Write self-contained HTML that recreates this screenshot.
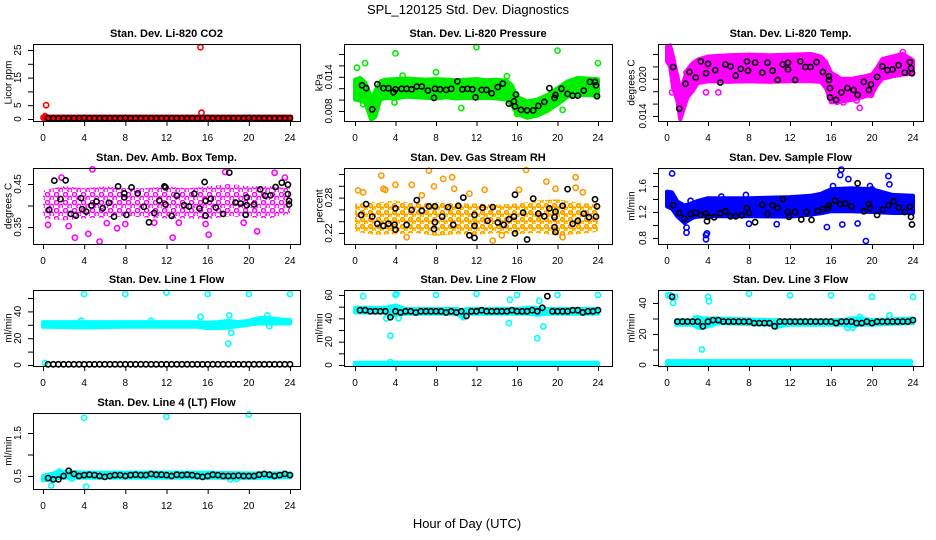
<!DOCTYPE html>
<html><head><meta charset="utf-8">
<style>
html,body{margin:0;padding:0;background:#fff;}
svg{display:block;font-family:"Liberation Sans",Arial,sans-serif;}
</style></head>
<body>
<svg id="chart" width="936" height="540" viewBox="0 0 936 540" xmlns="http://www.w3.org/2000/svg">
<defs>
<pattern id="patMag" width="9" height="8" patternUnits="userSpaceOnUse">
<circle cx="2.5" cy="2.5" r="2.1" fill="none" stroke="#ff00ff" stroke-width="1.5"/>
<circle cx="7" cy="6.5" r="2.1" fill="none" stroke="#ff00ff" stroke-width="1.5"/>
</pattern>
<pattern id="patOra" width="8" height="7" patternUnits="userSpaceOnUse">
<circle cx="2.5" cy="2.5" r="2" fill="#ffe000" stroke="#ff9900" stroke-width="1.4"/>
<circle cx="6.5" cy="6" r="2" fill="#ffe000" stroke="#ff9900" stroke-width="1.4"/>
</pattern>
</defs>
<rect x="0" y="0" width="936" height="540" fill="#fff"/>
<text x="468" y="14" font-size="13" text-anchor="middle">SPL_120125  Std. Dev. Diagnostics</text>
<text x="467" y="528" font-size="13" text-anchor="middle">Hour of Day (UTC)</text>
</svg>
<script>
// ---------- shared ----------
const xTickLabels = [0,4,8,12,16,20,24];
const stripHours = [0.5,1,1.5,2,2.5,3,3.5,4,4.5,5,5.5,6,6.5,7,7.5,8,8.5,9,9.5,10,10.5,11,11.5,12,12.5,13,13.5,14,14.5,15,15.5,16,16.5,17,17.5,18,18.5,19,19.5,20,20.5,21,21.5,22,22.5,23,23.5,24];

// ---------- Li-820 CO2 ----------
const co2Ticks = [0,5,10,15,20,25];
const co2TickLabels = ["0","5","","15","","25"];
const co2BandX = [0.1,24.1];
const co2BandLo = [-0.2,-0.2];
const co2BandHi = [0.9,0.9];
const co2OutX = [0.05,0.3,15.3,15.4,0.2];
const co2OutY = [0.5,5,26,2.3,1];
const co2BlackY = [0.3,0.3,0.2,0.3,0.3,0.3,0.3,0.4,0.3,0.3,0.3,0.3,0.3,0.3,0.3,0.4,0.3,0.3,0.3,0.3,0.3,0.3,0.3,0.3,0.3,0.3,0.3,0.3,0.3,0.3,0.3,0.4,0.3,0.3,0.3,0.3,0.3,0.3,0.3,0.4,0.3,0.3,0.3,0.3,0.3,0.3,0.3,0.3];

// ---------- Li-820 Pressure ----------
const presTicks = [0.008,0.010,0.012,0.014,0.016,0.018];
const presTickLabels = ["0.008","","","0.014","",""];
const presBandX = [0,0.5,1,1.3,1.6,2,2.5,3,4,5,6,7,8,9,10,11,12,13,14,15,15.5,16,17,18,19,20,21,22,23,24];
const presBandHi = [.0135,.0138,.0130,.0118,.0100,.0115,.0132,.0135,.0136,.0137,.0136,.0135,.0136,.0135,.0134,.0135,.0136,.0134,.0135,.0133,.0125,.0105,.0097,.0100,.0108,.0120,.0132,.0138,.0137,.0136];
const presBandLo = [.0100,.0098,.0095,.0080,.0064,.0070,.0100,.0103,.0102,.0105,.0104,.0103,.0102,.0104,.0102,.0103,.0102,.0103,.0102,.0100,.0090,.0075,.0068,.0072,.0080,.0092,.0105,.0108,.0108,.0106];
const presOutX = [0.2,1,4,12,20,24,8,4.7,15,0.5,0.8,10.5,16,17.1,20.5,3.9];
const presOutY = [.0156,.0164,.0181,.0192,.0186,.0164,.0148,.0142,.0141,.0106,.0092,.0085,.0075,.0072,.0082,.0095];
const presBlackX = [0.7,1.1,1.7,2.2,2.8,3.3,3.8,4,4.6,5.1,5.6,6.1,6.6,7.2,7.8,7.9,8.4,9,9.5,10.1,10.6,11.1,11.6,11.9,12.5,13,13.5,14.1,14.6,15.2,15.7,15.8,15.9,16.4,17,17.6,18.1,18.7,19.2,19.7,19.8,20.4,21,21.5,22,22.6,23.2,23.7,23.8,23.9];
const presBlackY = [.0125,.0120,.0083,.0127,.0120,.0120,.0113,.0118,.0119,.0119,.0118,.0123,.0123,.0116,.0103,.0119,.0118,.0117,.0119,.0132,.0118,.0119,.0118,.0104,.0117,.0117,.0111,.0122,.0128,.0093,.0097,.0088,.0109,.0082,.0081,.0081,.0089,.0096,.0120,.0103,.0108,.0119,.0110,.0107,.0107,.0116,.0131,.0131,.0125,.0106];

// ---------- Li-820 Temp ----------
const tempTicks = [0.014,0.016,0.018,0.020,0.022,0.024];
const tempTickLabels = ["0.014","","","0.020","",""];
const tempBandX = [0,0.3,0.6,1,1.3,1.6,2,2.5,3,4,6,8,10,12,14,15,15.5,16,17,18,19,20,20.5,21,22,23,24];
const tempBandHi = [.0252,.0254,.0235,.0205,.0180,.0195,.0215,.0225,.0231,.0236,.0238,.0239,.0238,.0239,.0240,.0236,.0228,.0210,.0200,.0200,.0203,.0207,.0218,.0232,.0236,.0240,.0230];
const tempBandLo = [.0228,.0220,.0185,.0165,.0134,.0150,.0170,.0180,.0193,.0196,.0195,.0196,.0195,.0196,.0196,.0195,.0185,.0162,.0163,.0166,.0170,.0175,.0190,.0200,.0204,.0207,.0208];
const tempOutX = [0.5,1.9,2.7,4.1,5,7.3,16.6,17.2,18.5,18.8,19.9,23,3.8];
const tempOutY = [.0178,.0210,.0200,.0200,.0178,.0198,.0163,.0162,.0165,.0153,.0174,.0243,.0178];
const tempBlackX = [0.6,1.2,1.8,2.2,2.8,3.3,3.8,4,4.7,5.2,5.7,6.2,6.7,7.2,7.8,7.9,8.6,9.3,9.8,10.3,10.8,11.3,11.8,11.8,12.5,13,13.5,14,14.6,15.2,15.8,15.8,15.9,15.9,16.5,17,17.6,18.2,18.6,19.2,19.7,19.9,20.5,21,21.5,22,22.6,23.2,23.7,23.8,23.9];
const tempBlackY = [.0219,.0152,.0192,.0211,.0202,.0228,.0209,.0224,.0214,.0194,.0223,.0220,.0205,.0216,.0228,.0213,.0226,.0210,.0226,.0213,.0198,.0223,.0226,.0215,.0198,.0228,.0219,.0219,.0227,.0211,.0204,.0198,.0185,.0170,.0166,.0178,.0185,.0182,.0174,.0195,.0182,.0191,.0203,.0220,.0214,.0215,.0222,.0210,.0227,.0217,.0209];

// ---------- Amb. Box Temp ----------
const ambTicks = [0.35,0.40,0.45];
const ambTickLabels = ["0.35","","0.45"];
const ambBandX = [0,2,4,6,8,10,12,14,16,18,20,22,24];
const ambBandHi = [.435,.445,.44,.445,.44,.44,.445,.44,.445,.45,.445,.445,.44];
const ambBandLo = [.37,.365,.37,.372,.375,.372,.37,.37,.368,.375,.372,.37,.38];
const ambOutX = [4.8,0.5,3.1,5.5,12.6,16.1,20.8,17.7,22.5,7.2,23.5,1.8,10.8,15.8,4.4,8,6.2,13.2,2.5,19.5];
const ambOutY = [.484,.355,.325,.316,.325,.332,.34,.478,.476,.347,.465,.465,.36,.357,.334,.357,.359,.36,.352,.36];
const ambBlackX = [0.6,1.1,1.7,2.2,2.7,3.2,3.7,3.8,4.2,4.7,5.2,5.8,6.4,6.9,7.3,7.9,7.9,8.1,8.6,9.2,9.8,10.3,10.8,11.3,11.8,11.9,11.9,12.5,13,13.7,14.2,14.7,15.2,15.7,15.8,15.8,16.3,16.8,17.5,18.1,18.7,19.2,19.7,19.8,19.8,20.5,21.1,21.6,22.1,22.6,23.2,23.8,23.8,23.9,23.9];
const ambBlackY = [.39,.4578,.4148,.4586,.3805,.3766,.4172,.3914,.3859,.40,.4094,.3938,.4063,.3742,.4445,.4281,.4188,.3781,.4422,.4281,.3969,.3609,.3828,.4117,.4445,.4422,.4023,.3758,.4227,.4008,.3977,.4273,.393,.4547,.4109,.3766,.4156,.3953,.3805,.4766,.407,.4047,.3781,.4188,.4008,.4023,.4375,.4227,.4234,.443,.4531,.4484,.4266,.4109,.4023];

// ---------- Gas Stream RH ----------
const rhTicks = [0.22,0.24,0.26,0.28,0.30,0.32];
const rhTickLabels = ["0.22","","","0.28","",""];
const rhBandX = [0,2,4,6,8,10,12,14,16,18,20,22,24];
const rhBandHi = [.27,.272,.275,.27,.272,.27,.27,.268,.27,.275,.277,.272,.268];
const rhBandLo = [.222,.217,.218,.22,.215,.218,.217,.22,.218,.22,.216,.218,.222];
const rhOutX = [0.3,2.6,2.8,4,5.6,6.6,7.3,7.8,8.7,9.6,9.8,11.3,12.8,13.6,16.9,16.2,18.9,19.8,21.8,21.8,20.5,5.1,14.5,0.8,3,22.5];
const rhOutY = [.2922,.3172,.295,.3017,.3017,.2839,.3256,.2989,.3117,.3144,.295,.2867,.2933,.2072,.3267,.2933,.3072,.295,.3144,.2967,.2128,.2128,.2161,.289,.293,.289];
const rhBlackX = [0.6,1.1,1.7,2.2,2.8,3.3,3.9,4,4,5.1,5.6,6.1,6.6,7.3,7.8,7.9,7.9,8.6,9.2,9.7,10.2,10.7,11.3,11.8,11.8,11.8,12.6,13.1,13.6,14.1,14.7,15.2,15.7,15.8,15.8,16.6,17,17.6,18.1,18.7,19.2,19.7,19.7,19.8,19.8,20.5,21,21.5,22,22.6,23.1,23.7,23.8,23.9];
const rhBlackY = [.2506,.2689,.2478,.2356,.2322,.2356,.2339,.2617,.2256,.2339,.2589,.2756,.2578,.265,.2267,.2383,.265,.2478,.2639,.2339,.2661,.28,.2161,.2117,.2322,.2506,.2628,.2406,.2639,.2378,.2339,.2433,.2478,.285,.2194,.2544,.2089,.2783,.2528,.2483,.2617,.2467,.23,.2561,.2217,.2661,.2944,.2356,.2406,.2528,.2467,.2772,.2478,.265];

// ---------- Sample Flow ----------
const sfTicks = [0.8,1.0,1.2,1.4,1.6,1.8];
const sfTickLabels = ["0.8","","1.2","","1.6",""];
const sfBandX = [0,0.5,1,1.7,2.5,3,4,8,12,14,15,16,18,20,22,24];
const sfBandHi = [1.514,1.50,1.362,1.30,1.337,1.37,1.413,1.413,1.43,1.45,1.48,1.55,1.565,1.55,1.463,1.45];
const sfBandLo = [1.286,1.25,1.134,1.033,1.11,1.13,1.134,1.134,1.13,1.159,1.18,1.21,1.21,1.20,1.185,1.185];
const sfOutX = [0.5,1.9,1.9,3.8,3.8,3.9,19.4,17,16.9,17.7,18.6,15.6,17.1,21.6,21.7,8,10.7,5.3,7.7,2.3,19.8,20,16.2];
const sfOutY = [1.792,.881,.96,.846,.78,.87,.754,1.853,1.767,1.706,1.023,.967,1.008,1.752,1.625,1.018,1.013,1.438,1.463,1.372,1.6,1.55,1.6];
const sfBlackX = [0.6,1.2,1.7,2.3,2.8,3.3,3.8,3.9,4,4.6,5.2,5.7,6.2,6.7,7.3,7.8,8,8.6,9.3,9.8,10.3,10.8,11.3,11.8,11.9,12.5,13.1,13.6,14.1,14.7,15.2,15.7,15.8,16.4,16.9,17.4,18,18.6,19.2,19.7,19.8,20.5,21,21.6,22.1,22.6,23.2,23.7,23.8,23.9];
const sfBlackY = [1.301,1.185,1.099,1.17,1.19,1.159,1.175,1.058,1.124,1.119,1.18,1.21,1.134,1.134,1.149,1.261,1.185,1.043,1.311,1.17,1.301,1.261,1.397,1.2,1.124,1.2,1.084,1.2,1.078,1.215,1.246,1.261,1.301,1.372,1.322,1.327,1.286,1.641,1.21,1.322,1.261,1.154,1.235,1.301,1.362,1.271,1.2,1.281,1.124,1.008];

// ---------- Line 1 Flow ----------
const l1Ticks = [0,10,20,30,40,50];
const l1TickLabels = ["0","","20","","40",""];
const l1BandX = [0,4,8,12,15,16,17,18,19,20,21,22,23,24];
const l1BandHi = [32,32,32,32,32,31.5,32,33,32,33,35,35,34,33.5];
const l1BandLo = [28.5,28,28.5,28.5,28.5,27.5,27.5,28,29,30,31,31,31,31];
const l1OutX = [4,8,12,16,20,24,15.3,18.1,18.3,18,22,21.8,10.5,3.7,0.2];
const l1OutY = [53,53,54,53,53,53,36,37,24,16,29,37,33,33,1.5];
const l1BlackY = [0.5,0.5,0.5,0.5,0.5,0.5,0.5,0.5,0.5,0.5,0.5,0.5,0.5,0.5,0.5,0.5,0.5,0.5,0.5,0.5,0.5,0.5,0.5,0.5,0.5,0.5,0.5,0.5,0.5,0.5,0.5,0.5,0.5,0.5,0.5,0.5,0.5,0.5,0.5,0.5,0.5,0.5,0.5,0.5,0.5,0.5,0.5,0.5];

// ---------- Line 2 Flow ----------
const l2Ticks = [0,10,20,30,40,50,60];
const l2TickLabels = ["0","","20","","40","","60"];
const l2BandX = [0,3,3.5,4,5,10,10.6,11,16,17,18,19,24];
const l2BandHi = [49,49,50,51,48,48,47,48,48,49,49,48,48];
const l2BandLo = [45,45,41,43,44,44,41,44,44,44,43,44,44];
const l2StripX = [0,24];
const l2StripLo = [0,0];
const l2StripHi = [2,2];
const l2OutX = [0.8,3.5,3.1,4,4.1,4.3,8,12,15.3,15.2,16,18,18.2,18.6,20,24,10.7,3.5];
const l2OutY = [59,25,40,60,61,40,60,61,56,36,60,23,55,33,60,60,41,2.5];
const l2BlackY = [47,47,46,46,46,46,41,46,45,46,46,45,46,46,46,46,46,45,46,45,46,42,46,46,47,46,46,46,46,46,47,46,46,46,47,46,49,59,46,46,46,46,47,47,45,46,46,47];

// ---------- Line 3 Flow ----------
const l3Ticks = [0,10,20,30,40];
const l3TickLabels = ["0","","20","","40"];
const l3BandX = [0.9,2.5,3,3.5,4,5,10,11,12,17,18,19,20,24];
const l3BandHi = [29,29,31,30,30,30,29,29,29,29,30,30,29,30];
const l3BandLo = [26,26,24,24,25,27,26,25,26,26,25,26,26,27];
const l3StripX = [0,23.8];
const l3StripLo = [0,0];
const l3StripHi = [2.5,2.5];
const l3OutX = [0.1,0.3,0.5,0.6,0.8,3.4,4,4.1,8,12,16,20,24,17.6,18.1,18.8,21.7,2.8,3.3,10.7];
const l3OutY = [45,45,44,40,44,10,44,41,46,45,45,44,44,24,24,31,32,30,25,25];
const l3BlackY = [44,28,28,28,28,28,25,28,29,29,28,28,28,28,28,28,27,27,27,27,25,28,28,28,28,28,28,28,28,28,28,28,27,28,28,28,27,27,28,27,28,28,28,28,28,28,28,29];

// ---------- Line 4 (LT) Flow ----------
const l4Ticks = [0.5,1.0,1.5];
const l4TickLabels = ["0.5","","1.5"];
const l4BandX = [0,1,1.5,2,4,8,12,16,20,24];
const l4BandHi = [0.5,0.56,0.6,0.6,0.58,0.58,0.58,0.58,0.56,0.56];
const l4BandLo = [0.40,0.42,0.45,0.46,0.46,0.46,0.46,0.46,0.45,0.47];
const l4OutX = [4,12,20,0.8,4.2,2.8,18.2,18.8,1.6];
const l4OutY = [1.85,1.88,1.93,0.28,0.25,0.44,0.42,0.43,0.6];
const l4BlackY = [0.45,0.42,0.42,0.50,0.62,0.55,0.50,0.52,0.53,0.52,0.50,0.48,0.50,0.52,0.52,0.50,0.52,0.53,0.52,0.52,0.55,0.53,0.53,0.52,0.50,0.53,0.52,0.53,0.52,0.50,0.48,0.50,0.53,0.52,0.50,0.50,0.50,0.51,0.50,0.50,0.50,0.53,0.55,0.53,0.50,0.52,0.55,0.52];

// ---------- layout (geometry only) ----------
const cols = [{l:33,r:300,x0:43,x24:290,yl:8},{l:344,r:612,x0:355,x24:598,yl:319},{l:658,r:923,x0:667,x24:913,yl:631}];
const rows = [{t:44,b:121},{t:168,b:244},{t:290,b:366},{t:413,b:489}];

const panels = [
 {name:'co2',title:'Stan. Dev. Li-820 CO2',ylab:'Licor ppm',c:0,r:0,v0:0,p0:119,v1:25,p1:50,ticks:co2Ticks,tl:co2TickLabels,color:'#ff0000',
  bands:[[co2BandX,co2BandLo,co2BandHi]],outX:co2OutX,outY:co2OutY,bX:stripHours,bY:co2BlackY},
 {name:'pressure',title:'Stan. Dev. Li-820 Pressure',ylab:'kPa',c:1,r:0,v0:0.008,p0:111,v1:0.018,p1:54,ticks:presTicks,tl:presTickLabels,color:'#00ee00',
  bands:[[presBandX,presBandLo,presBandHi]],outX:presOutX,outY:presOutY,bX:presBlackX,bY:presBlackY},
 {name:'temp',title:'Stan. Dev. Li-820 Temp.',ylab:'degrees C',c:2,r:0,v0:0.014,p0:116,v1:0.024,p1:54,ticks:tempTicks,tl:tempTickLabels,color:'#ff00ff',
  bands:[[tempBandX,tempBandLo,tempBandHi]],outX:tempOutX,outY:tempOutY,bX:tempBlackX,bY:tempBlackY},
 {name:'amb-box-temp',title:'Stan. Dev. Amb. Box Temp.',ylab:'degrees C',c:0,r:1,v0:0.35,p0:227,v1:0.45,p1:184,ticks:ambTicks,tl:ambTickLabels,color:'#ff00ff',pat:'url(#patMag)',
  bands:[[ambBandX,ambBandLo,ambBandHi]],outX:ambOutX,outY:ambOutY,bX:ambBlackX,bY:ambBlackY},
 {name:'gas-rh',title:'Stan. Dev. Gas Stream RH',ylab:'percent',c:1,r:1,v0:0.22,p0:233,v1:0.32,p1:174,ticks:rhTicks,tl:rhTickLabels,color:'#ff9900',pat:'url(#patOra)',
  bands:[[rhBandX,rhBandLo,rhBandHi]],outX:rhOutX,outY:rhOutY,bX:rhBlackX,bY:rhBlackY},
 {name:'sample-flow',title:'Stan. Dev. Sample Flow',ylab:'ml/min',c:2,r:1,v0:0.8,p0:238,v1:1.8,p1:173,ticks:sfTicks,tl:sfTickLabels,color:'#0000ff',
  bands:[[sfBandX,sfBandLo,sfBandHi]],outX:sfOutX,outY:sfOutY,bX:sfBlackX,bY:sfBlackY},
 {name:'line1-flow',title:'Stan. Dev. Line 1 Flow',ylab:'ml/min',c:0,r:2,v0:0,p0:365,v1:50,p1:298,ticks:l1Ticks,tl:l1TickLabels,color:'#00ffff',
  bands:[[l1BandX,l1BandLo,l1BandHi]],outX:l1OutX,outY:l1OutY,bX:stripHours,bY:l1BlackY},
 {name:'line2-flow',title:'Stan. Dev. Line 2 Flow',ylab:'ml/min',c:1,r:2,v0:0,p0:365,v1:60,p1:295,ticks:l2Ticks,tl:l2TickLabels,color:'#00ffff',
  bands:[[l2BandX,l2BandLo,l2BandHi],[l2StripX,l2StripLo,l2StripHi]],outX:l2OutX,outY:l2OutY,bX:stripHours,bY:l2BlackY},
 {name:'line3-flow',title:'Stan. Dev. Line 3 Flow',ylab:'ml/min',c:2,r:2,v0:0,p0:365,v1:40,p1:303,ticks:l3Ticks,tl:l3TickLabels,color:'#00ffff',
  bands:[[l3BandX,l3BandLo,l3BandHi],[l3StripX,l3StripLo,l3StripHi]],outX:l3OutX,outY:l3OutY,bX:stripHours,bY:l3BlackY},
 {name:'line4-flow',title:'Stan. Dev. Line 4 (LT) Flow',ylab:'ml/min',c:0,r:3,v0:0.5,p0:476,v1:1.5,p1:433,ticks:l4Ticks,tl:l4TickLabels,color:'#00ffff',
  bands:[[l4BandX,l4BandLo,l4BandHi]],outX:l4OutX,outY:l4OutY,bX:stripHours,bY:l4BlackY}
];

const NS = 'http://www.w3.org/2000/svg';
const svg = document.getElementById('chart');
function mk(tag, attrs, parent){
  const e = document.createElementNS(NS, tag);
  for (const k in attrs) e.setAttribute(k, attrs[k]);
  (parent||svg).appendChild(e);
  return e;
}

panels.forEach(p => {
  const C = cols[p.c], R = rows[p.r];
  const xs = h => C.x0 + (C.x24 - C.x0) * h / 24;
  const ys = v => p.p0 + (p.p1 - p.p0) * (v - p.v0) / (p.v1 - p.v0);
  const g = mk('g', {});
  
  

  const t = mk('text', {x:(C.l+C.r)/2, y:R.t-7, 'font-size':11, 'font-weight':'bold', 'text-anchor':'middle'}, g);
  t.textContent = p.title;
  
  

  const yl = mk('text', {x:C.yl, y:(R.t+R.b)/2, 'font-size':10, 'text-anchor':'middle', transform:'rotate(-90 '+(C.yl)+' '+((R.t+R.b)/2)+')', dy:'0.35em'}, g);
  yl.textContent = p.ylab;
  
  

  p.bands.forEach((b, bi) => {
    const [bx, lo, hi] = b;
    const n = Math.min(bx.length, lo.length, hi.length);
    let pts = [];
    for (let i=0;i<n;i++) pts.push(xs(bx[i]).toFixed(1)+','+ys(hi[i]).toFixed(1));
    for (let i=n-1;i>=0;i--) pts.push(xs(bx[i]).toFixed(1)+','+ys(lo[i]).toFixed(1));
    const attrs = p.pat ? {points:pts.join(' '), fill:p.pat, stroke:'none'}
                        : {points:pts.join(' '), fill:p.color, stroke:p.color, 'stroke-width':4, 'stroke-linejoin':'round'};
    const poly = mk('polygon', attrs, g);
    
    
  });

  const no = Math.min(p.outX.length, p.outY.length);
  for (let i=0;i<no;i++){
    const c = mk('circle', {cx:xs(p.outX[i]).toFixed(1), cy:ys(p.outY[i]).toFixed(1), r:2.6, fill:'none', stroke:p.color, 'stroke-width':1.6}, g);
    
    
  }
  const nb = Math.min(p.bX.length, p.bY.length);
  for (let i=0;i<nb;i++){
    const c = mk('circle', {cx:xs(p.bX[i]).toFixed(1), cy:ys(p.bY[i]).toFixed(1), r:2.6, fill:'none', stroke:'#000', 'stroke-width':1.6}, g);
    
    
  }

  const box = mk('rect', {x:C.l+0.5, y:R.t+0.5, width:C.r-C.l, height:R.b-R.t, fill:'none', stroke:'#000', 'stroke-width':1}, g);
  
  

  const xa = mk('g', {}, g);
  
  
  mk('line', {x1:xs(0), x2:xs(24), y1:R.b+0.5, y2:R.b+0.5, stroke:'#000'}, xa);
  xTickLabels.forEach(h => {
    mk('line', {x1:xs(h)+0.5, x2:xs(h)+0.5, y1:R.b, y2:R.b+5, stroke:'#000'}, xa);
    const tx = mk('text', {x:xs(h), y:R.b+20, 'font-size':10, 'text-anchor':'middle'}, xa);
    tx.textContent = h;
    
    
  });

  const ya = mk('g', {}, g);
  
  
  const yt0 = ys(p.ticks[0]), yt1 = ys(p.ticks[p.ticks.length-1]);
  mk('line', {x1:C.l+0.5, x2:C.l+0.5, y1:yt0, y2:yt1, stroke:'#000'}, ya);
  p.ticks.forEach((v, i) => {
    const py = ys(v);
    mk('line', {x1:C.l-5, x2:C.l, y1:py+0.5, y2:py+0.5, stroke:'#000'}, ya);
    if (p.tl[i]) {
      const lx = C.l - 12;
      const ty = mk('text', {x:lx, y:py, 'font-size':10, 'text-anchor':'middle', transform:'rotate(-90 '+lx+' '+py+')'}, ya);
      ty.textContent = p.tl[i];
      
      
    }
  });
});
</script>
</body></html>
